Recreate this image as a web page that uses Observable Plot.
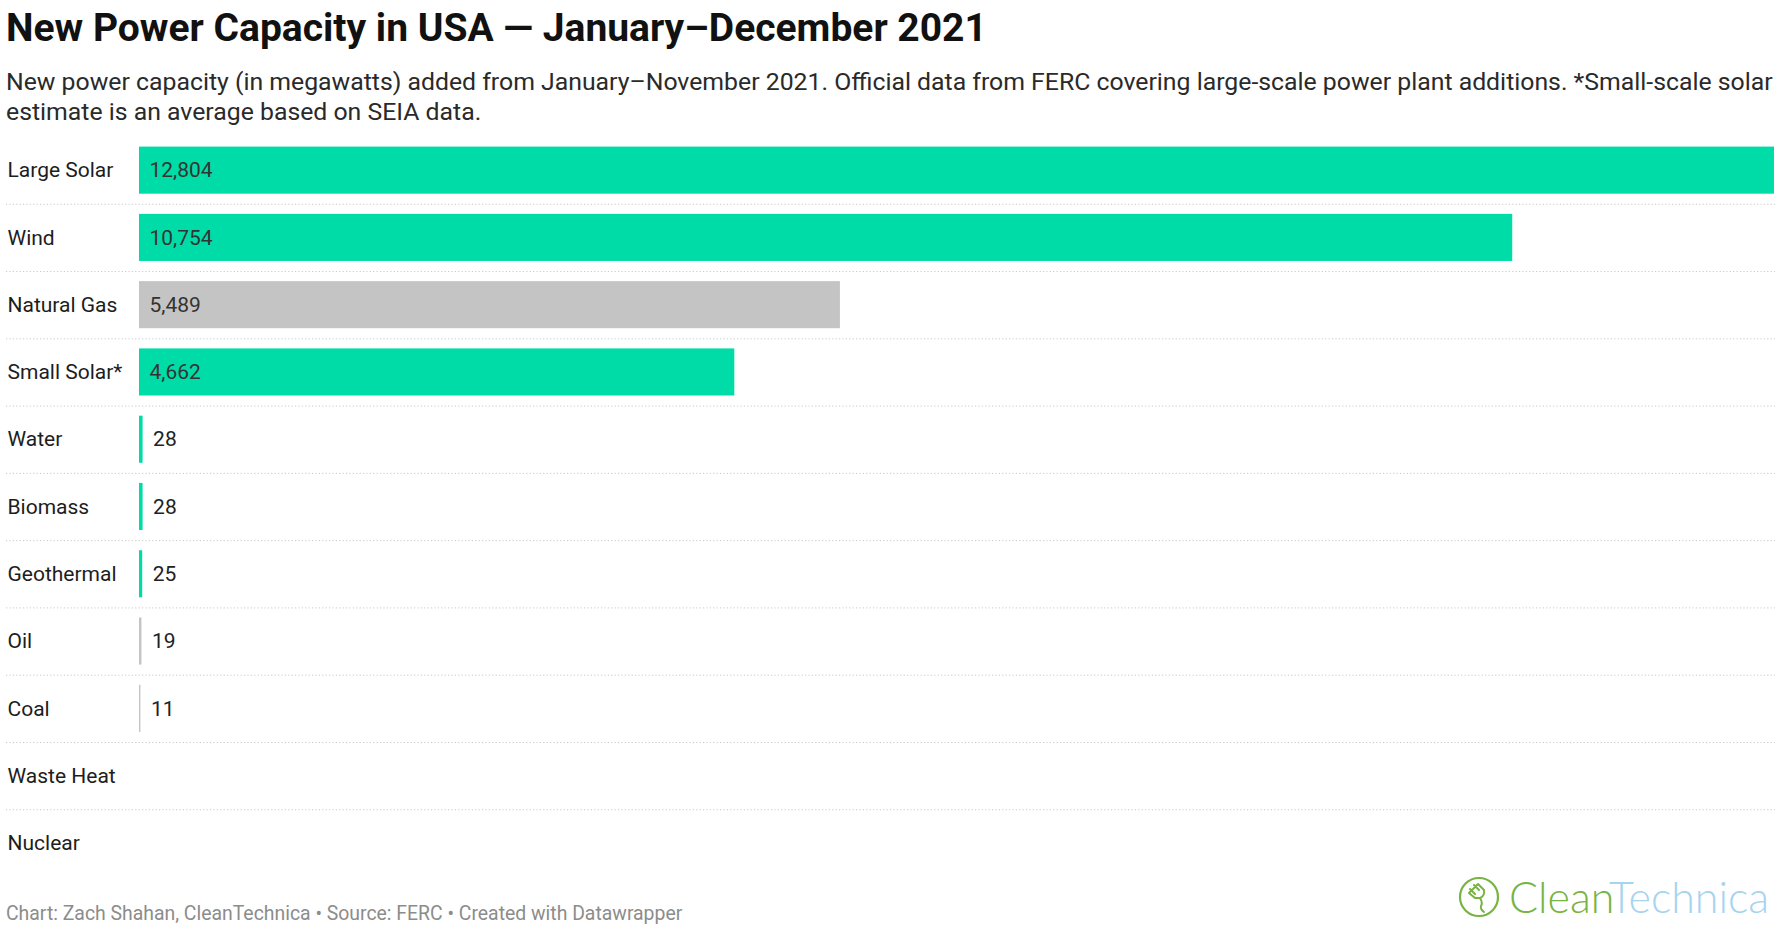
<!DOCTYPE html>
<html><head><meta charset="utf-8">
<script src="https://cdn.jsdelivr.net/npm/d3@7"></script>
<script src="https://cdn.jsdelivr.net/npm/@observablehq/plot@0.6"></script>
<style>
body{margin:0;background:#fff;font-family:Roboto,sans-serif;width:1783px;height:929px;position:relative;overflow:hidden}
#title{position:absolute;left:6px;top:9px;font-size:39px;line-height:39px;font-weight:700;color:#111;white-space:nowrap}
#subtitle{position:absolute;left:6px;top:67px;font-size:24.8px;line-height:30px;color:#2a2a2a;white-space:nowrap}
#chart{position:absolute;left:0;top:126px}
#footer{position:absolute;left:6px;top:904px;font-size:19.4px;line-height:19.4px;color:#8c8c8c;white-space:nowrap}
#logo{position:absolute;left:1455px;top:872px}
</style></head><body>
<div id="title">New Power Capacity in USA — January–December 2021</div>
<div id="subtitle">New power capacity (in megawatts) added from January–November 2021. Official data from FERC covering large-scale power plant additions. *Small-scale solar<br>estimate is an average based on SEIA data.</div>
<div id="chart"></div>
<div id="footer">Chart: Zach Shahan, CleanTechnica • Source: FERC • Created with Datawrapper</div>
<svg id="logo" width="328" height="56">
  <circle cx="24" cy="25" r="19" fill="none" stroke="#78b443" stroke-width="2.2"/>
  <path d="M15 17 L20 22 M19 13 L24 18 M14 21 L23 12 L29 18 Q30 24 25 26 L20 26 Z M25 26 Q28 31 26 34 Q25 37 29 40" fill="none" stroke="#78b443" stroke-width="2" stroke-linecap="round" stroke-linejoin="round"/>
  <text x="54" y="41" font-family="Lato" font-weight="300" font-size="43"><tspan fill="#78b443">Clean</tspan><tspan fill="#a6d4ef">Technica</tspan></text>
</svg>
<script>
const categories = ["Large Solar","Wind","Natural Gas","Small Solar*","Water","Biomass","Geothermal","Oil","Coal","Waste Heat","Nuclear"];
const values = [12804,10754,5489,4662,28,28,25,19,11,0,0];
const types = ["renewable","renewable","fossil","renewable","renewable","renewable","renewable","fossil","fossil","fossil","fossil"];
const typeNames = ["renewable","fossil"];
const typeColors = ["#00dca7","#c4c4c4"];

const data = categories.map((c,i)=>({category:c, value:values[i], type:types[i]}));
const withBar = data.filter(d=>d.value>0);
const fmt = d3.format(",");

const chart = Plot.plot({
  width:1783, height:753,
  marginTop:10.5, marginBottom:2.5, marginLeft:6, marginRight:8,
  style:{fontFamily:"Roboto, sans-serif", fontSize:"21px", background:"#fff"},
  x:{domain:[0, d3.max(values)], range:[139,1774], axis:null},
  y:{domain:categories, paddingInner:0.3, paddingOuter:0.15, round:false, axis:null},
  color:{domain:typeNames, range:typeColors},
  marks:[
    Plot.ruleY(categories.slice(1), {y:d=>d, dy:-740/22, stroke:"#c9c9c9", strokeWidth:1, strokeDasharray:"1.2,2.2"}),
    Plot.barX(withBar, {x:"value", y:"category", fill:"type"}),
    Plot.text(withBar.filter(d=>d.value>=1000), {x:0, y:"category", text:d=>fmt(d.value), textAnchor:"start", dx:10, fill:"#333", fontSize:21}),
    Plot.text(withBar.filter(d=>d.value<1000), {x:"value", y:"category", text:d=>fmt(d.value), textAnchor:"start", dx:10, fill:"#222", fontSize:21}),
    Plot.text(data, {y:"category", text:"category", frameAnchor:"left", textAnchor:"start", dx:1, fill:"#1d1d1d", fontSize:21})
  ]
});
document.getElementById("chart").appendChild(chart);
</script>
</body></html>
